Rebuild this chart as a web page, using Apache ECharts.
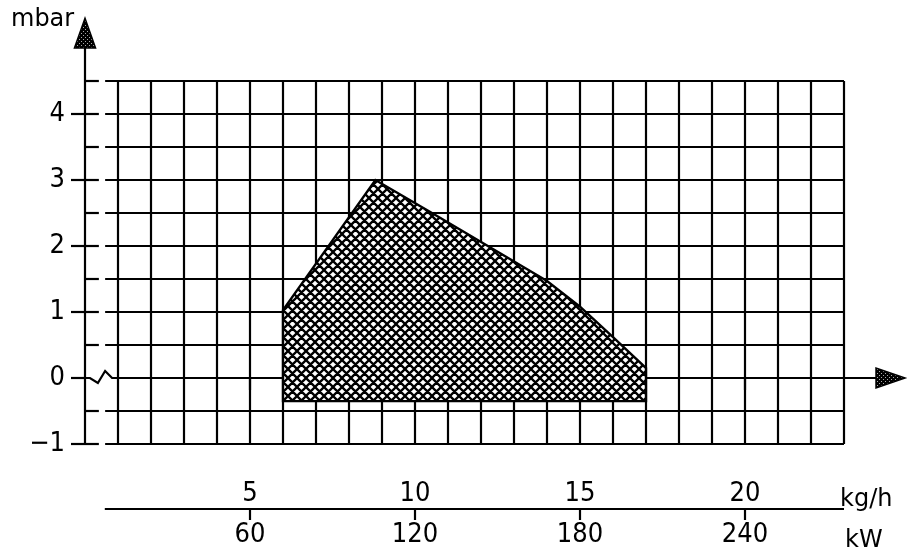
<!DOCTYPE html>
<html><head><meta charset="utf-8">
<script src="https://cdn.jsdelivr.net/npm/echarts@6/dist/echarts.min.js"></script>
<style>html,body{margin:0;padding:0;background:#fff}#c{width:922px;height:555px}</style>
</head><body><div id="c"></div>
<script>
// ---- data ----
const kgTicks = [5, 10, 15, 20];
const kwTicks = [60, 120, 180, 240];
const mbarTicks = [-1, 0, 1, 2, 3, 4];
const fieldKg   = [6, 6, 8.8, 10.45, 12.58, 14.0, 15.0, 16.0, 17, 17];
const fieldMbar = [-0.35, 1.03, 3.0, 2.52, 1.89, 1.47, 1.08, 0.62, 0.15, -0.35];
const gridKgMax = 23, mbarMin = -1, mbarMax = 4.5, mbarStep = 0.5;

const FONT = '"DejaVu Sans Condensed", "DejaVu Sans", sans-serif';
const UNIT_FONT = '"DejaVu Sans", sans-serif';

function hatch() {
  const n = 9;
  const c = document.createElement('canvas'); c.width = n; c.height = n;
  const g = c.getContext('2d');
  g.fillStyle = '#fff'; g.fillRect(0, 0, n, n);
  g.strokeStyle = '#000'; g.lineWidth = 2.3; g.beginPath();
  for (let k = -1; k <= 1; k++) {
    g.moveTo(k * n, 0); g.lineTo(k * n + n, n);
    g.moveTo(k * n, n); g.lineTo(k * n + n, 0);
  }
  g.stroke(); return c;
}
function stipple() {
  const c = document.createElement('canvas'); c.width = 4; c.height = 4;
  const g = c.getContext('2d');
  g.fillStyle = '#000'; g.fillRect(0, 0, 4, 4);
  g.fillStyle = '#aaa'; g.fillRect(1, 1, 1, 1); g.fillRect(3, 3, 1, 1);
  return c;
}
const hatchPat = { image: hatch(), repeat: 'repeat' };
const dotPat = { image: stipple(), repeat: 'repeat' };

const chart = echarts.init(document.getElementById('c'), null, { renderer: 'canvas' });

function frameItem(params, api) {
  if (params.dataIndex !== 0) return;
  const P = (x, y) => api.coord([x, y]);
  const kids = [];
  const line = (a, b, w) => kids.push({ type: 'line', shape: { x1: a[0], y1: a[1], x2: b[0], y2: b[1] }, style: { stroke: '#000', lineWidth: w || 2.2 } });
  for (let x = 1; x <= gridKgMax; x++) line(P(x, mbarMin), P(x, mbarMax));
  for (let i = 0; mbarMin + i * mbarStep <= mbarMax + 1e-9; i++) {
    const y = mbarMin + i * mbarStep;
    if (Math.abs(y) < 1e-9) continue;
    line(P(0, y), P(0.42, y));
    line(P(0.61, y), P(gridKgMax, y));
  }
  kids.push({ type: 'polyline', shape: { points: [P(0, 0), P(0.15, 0), P(0.39, -0.076), P(0.61, 0.106), P(0.82, 0), P(23.97, 0)] }, style: { stroke: '#000', lineWidth: 2.2, fill: null } });
  line(P(0, mbarMin), P(0, 5.0));
  kids.push({ type: 'polygon', shape: { points: [P(-0.32, 5.0), P(0.32, 5.0), P(0, 5.45)] }, style: { fill: dotPat, stroke: '#000', lineWidth: 1.5 } });
  kids.push({ type: 'polygon', shape: { points: [P(23.97, 0.15), P(23.97, -0.15), P(24.85, 0)] }, style: { fill: dotPat, stroke: '#000', lineWidth: 1.5 } });
  line(P(0.6, -1.985), P(gridKgMax, -1.985));
  return { type: 'group', children: kids };
}

function fieldItem(params, api) {
  if (params.dataIndex !== 0) return;
  const pts = fieldKg.map((x, i) => api.coord([x, fieldMbar[i]]));
  return { type: 'polygon', shape: { points: pts }, style: { fill: hatchPat, stroke: '#000', lineWidth: 2.4 } };
}

const labelStyle = { color: '#000', fontFamily: FONT, fontSize: 27 };
const unitStyle = { fill: '#000', fontFamily: UNIT_FONT, fontSize: 24 };

chart.setOption({
  animation: false,
  backgroundColor: '#fff',
  grid: { left: 85, right: 12, top: 15, bottom: 111, containLabel: false },
  xAxis: [
    { type: 'value', min: 0, max: 25, position: 'bottom',
      axisLine: { show: false }, splitLine: { show: false },
      axisTick: { show: true, customValues: kgTicks, length: 12, lineStyle: { color: '#000', width: 2.2 } },
      axisLabel: Object.assign({ customValues: kgTicks, margin: 36 }, labelStyle) },
    { type: 'value', min: 0, max: 300, position: 'bottom', offset: 65,
      axisLine: { show: false }, splitLine: { show: false },
      axisTick: { show: true, customValues: kwTicks, length: 11, lineStyle: { color: '#000', width: 2.2 } },
      axisLabel: Object.assign({ customValues: kwTicks, margin: 12 }, labelStyle) }
  ],
  yAxis: { type: 'value', min: -1, max: 5.5,
    axisLine: { show: false }, splitLine: { show: false },
    axisTick: { show: true, customValues: mbarTicks, length: 14, lineStyle: { color: '#000', width: 2.2 } },
    axisLabel: Object.assign({ customValues: mbarTicks, margin: 20, formatter: v => v < 0 ? '\u2212' + Math.abs(v) : String(v) }, labelStyle) },
  graphic: [
    { type: 'text', left: 11, top: 8, style: Object.assign({ text: 'mbar' }, unitStyle) },
    { type: 'text', left: 840, top: 488, style: Object.assign({ text: 'kg/h' }, unitStyle) },
    { type: 'text', left: 845, top: 529, style: Object.assign({ text: 'kW' }, unitStyle) }
  ],
  series: [
    { type: 'custom', name: 'frame', renderItem: frameItem, data: [[0, 0]], silent: true, z: 1 },
    { type: 'custom', name: 'field', renderItem: fieldItem, data: fieldKg.map((x, i) => [x, fieldMbar[i]]), silent: true, z: 2 }
  ]
});
</script></body></html>
